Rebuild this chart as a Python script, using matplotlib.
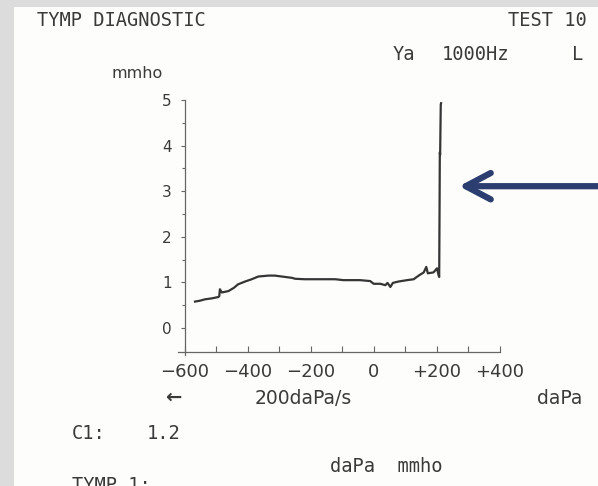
import matplotlib.pyplot as plt
import matplotlib.patches as mpatches

# tympanogram trace (daPa, mmho)
pressure = [-568, -552, -536, -515, -494, -491, -489, -483, -462, -445,
            -431, -409, -388, -367, -350, -335, -315, -293, -260, -250,
            -220, -192, -160, -123, -97, -70, -44, -12, -1, 20,
            36, 43, 52, 60, 78, 105, 126, 142, 158, 166,
            171, 189, 200, 205, 207, 208, 209, 210, 212, 213]
admittance = [0.58, 0.60, 0.63, 0.65, 0.68, 0.70, 0.85, 0.78, 0.81, 0.88,
              0.96, 1.02, 1.07, 1.13, 1.14, 1.15, 1.15, 1.13, 1.10, 1.08,
              1.07, 1.07, 1.07, 1.07, 1.05, 1.05, 1.05, 1.03, 0.97, 0.97,
              0.94, 0.99, 0.90, 0.99, 1.02, 1.05, 1.07, 1.15, 1.22, 1.34,
              1.20, 1.22, 1.31, 1.16, 1.12, 2.40, 3.85, 3.80, 4.90, 4.93]

x_major = [-600, -400, -200, 0, 200, 400]
x_labels = ['\u2212600', '\u2212400', '\u2212200', '0', '+200', '+400']
x_minor = [-500, -300, -100, 100, 300]
y_major = [0, 1, 2, 3, 4, 5]
y_minor = [0.5, 1.5, 2.5, 3.5, 4.5]

W, H = 598, 486
ink = '#3a3a3a'
axis_col = '#666666'
mono = 'DejaVu Sans Mono'
sans = 'DejaVu Sans'


def px(x, y):
    return x / W, 1 - y / H


fig = plt.figure(figsize=(W / 100, H / 100), dpi=100)
fig.patch.set_facecolor('#fdfdfb')
# scanner edges
fig.add_artist(mpatches.Rectangle((0, 0), 14 / W, 1, transform=fig.transFigure,
                                  color='#dcdcdc', lw=0, zorder=0))
fig.add_artist(mpatches.Rectangle((0, 1 - 7 / H), 1, 7 / H, transform=fig.transFigure,
                                  color='#dcdcdc', lw=0, zorder=0))

ax = fig.add_axes([178 / W, (H - 355.4) / H, 322 / W, 255.4 / H])
ax.patch.set_alpha(0)
ax.set_xlim(-622, 400)
ax.set_ylim(-0.6, 5.0)

ax.plot(pressure, admittance, color='#353535', lw=1.6, solid_joinstyle='round')

for s in ['top', 'right']:
    ax.spines[s].set_visible(False)
ax.spines['left'].set_position(('data', -600))
ax.spines['bottom'].set_position(('data', -0.53))
for s in ['left', 'bottom']:
    ax.spines[s].set_color(axis_col)
    ax.spines[s].set_linewidth(0.9)

ax.set_xticks(x_major)
ax.set_xticklabels(x_labels)
ax.set_xticks(x_minor, minor=True)
ax.set_yticks(y_major)
ax.set_yticks(y_minor, minor=True)
ax.tick_params(axis='x', which='both', direction='in', length=4, width=0.8,
               color=axis_col, pad=7.5, labelsize=13, labelcolor=ink)
ax.tick_params(axis='y', which='major', direction='out', length=3, width=0.8,
               color=axis_col, pad=6.5, labelsize=11, labelcolor=ink)
ax.tick_params(axis='y', which='minor', direction='out', length=2, width=0.8,
               color=axis_col)

# pointer to the peak
ax.annotate('', xy=(270, 3.11), xytext=(730, 3.11), xycoords='data',
            annotation_clip=False,
            arrowprops=dict(arrowstyle='->,head_length=1.8,head_width=0.95',
                            lw=4.5, color='#2c3e70', shrinkA=0, shrinkB=0,
                            capstyle='round', joinstyle='round'))

fig.text(*px(37, 20), 'TYMP DIAGNOSTIC', family=mono, fontsize=13.5,
         color=ink, va='center', ha='left')
fig.text(*px(587, 20), 'TEST 10', family=mono, fontsize=13.5,
         color=ink, va='center', ha='right')
fig.text(*px(393, 55), 'Ya', family=mono, fontsize=13.5, color=ink, va='center')
fig.text(*px(442, 55), '1000Hz', family=mono, fontsize=13.5, color=ink, va='center')
fig.text(*px(572, 55), 'L', family=mono, fontsize=13.5, color=ink, va='center')
fig.text(*px(112, 74), 'mmho', family=sans, fontsize=11.5, color=ink, va='center')

fig.text(*px(165, 397), '\u2190', family=sans, fontsize=14, fontweight='bold',
         color=ink, va='center')
fig.text(*px(255, 398), '200daPa/s', family=sans, fontsize=13.5, color=ink, va='center')
fig.text(*px(582, 398), 'daPa', family=sans, fontsize=13.5, color=ink,
         va='center', ha='right')
fig.text(*px(72, 433), 'C1:', family=mono, fontsize=13.5, color=ink, va='center')
fig.text(*px(147, 433), '1.2', family=mono, fontsize=13.5, color=ink, va='center')
fig.text(*px(330, 466), 'daPa  mmho', family=mono, fontsize=13.5, color=ink, va='center')
fig.text(*px(72, 476), 'TYMP 1:', family=mono, fontsize=13.5, color=ink, va='top')

fig.savefig('out.png', dpi=100, facecolor=fig.get_facecolor())
